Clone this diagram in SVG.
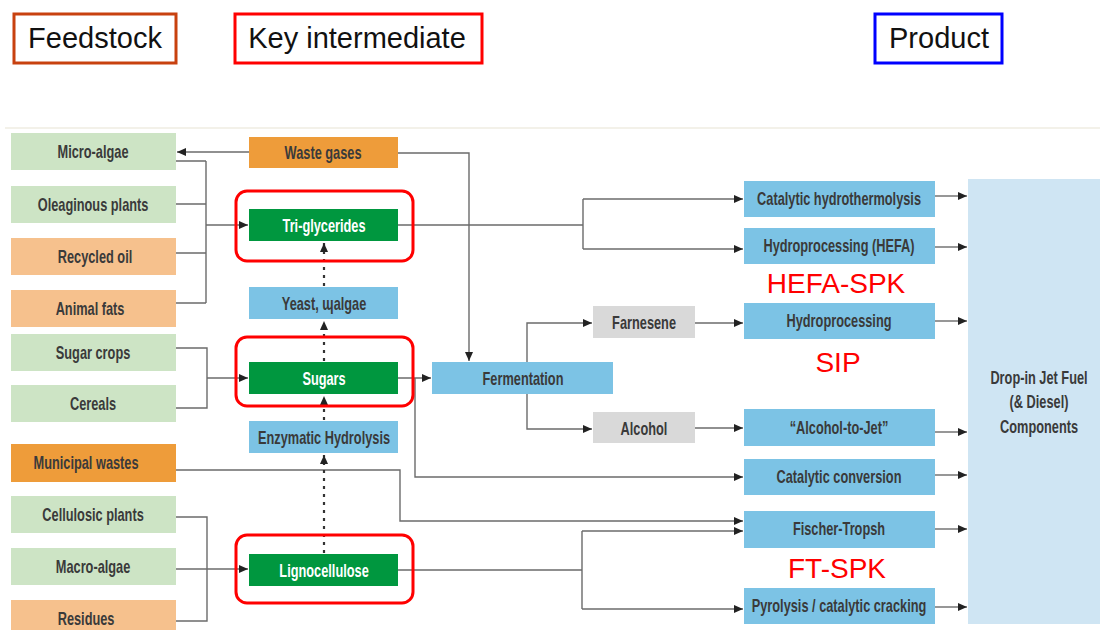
<svg xmlns="http://www.w3.org/2000/svg" width="1100" height="630" viewBox="0 0 1100 630">
<style>
.hdr{font-family:"Liberation Sans",Arial,sans-serif;font-size:29px;fill:#111;text-anchor:middle}
.t{font-family:"Liberation Sans",Arial,sans-serif;font-weight:bold;font-size:18px;fill:#3a3a3a;text-anchor:middle;transform-box:fill-box;transform-origin:center;transform:scaleX(0.71)}
.w{fill:#ffffff}
.red{font-family:"Liberation Sans",Arial,sans-serif;font-size:28px;fill:#ff0000;text-anchor:middle}
.gl{fill:#cde4c5}.ol{fill:#f6c18d}.od{fill:#ee9c3a}.gd{fill:#00973f}.bl{fill:#7cc3e5}.gr{fill:#d9d9d9}
.rb{fill:none;stroke:#ff0000;stroke-width:3}
.c{fill:none;stroke:#6b6b6b;stroke-width:1.4}
.ca{fill:none;stroke:#6b6b6b;stroke-width:1.4;marker-end:url(#ah)}
.d{fill:none;stroke:#333;stroke-width:2.2;stroke-dasharray:3 5;marker-end:url(#ah)}
</style>
<defs>
<marker id="ah" markerUnits="userSpaceOnUse" markerWidth="10" markerHeight="8" refX="9" refY="4" orient="auto">
<path d="M0,0 L9,4 L0,8 z" fill="#222"/>
</marker>
</defs>
<rect width="1100" height="630" fill="#ffffff"/>
<line x1="5" y1="128" x2="1100" y2="128" stroke="#efece2" stroke-width="1.5"/>

<g id="legend-feedstock"><rect x="14" y="14" width="162" height="49" fill="#fff" stroke="#c8410f" stroke-width="3"/><text class="hdr" x="95" y="48">Feedstock</text></g>
<g id="legend-intermediate"><rect x="235" y="14" width="247" height="49" fill="#fff" stroke="#ff0000" stroke-width="3"/><text class="hdr" x="357" y="48">Key intermediate</text></g>
<g id="legend-product"><rect x="875" y="14" width="127" height="49" fill="#fff" stroke="#0000ff" stroke-width="3"/><text class="hdr" x="939" y="48">Product</text></g>

<g id="connectors">
<path class="ca" d="M249,152 H177"/>
<path class="ca" d="M398,153 H469 V361"/>
<path class="c" d="M176,161 H206 M176,204 H206 M176,253 H206 M176,303 H206 M206,161 V303"/>
<path class="ca" d="M206,225 H248"/>
<path class="c" d="M176,348 H207 V408 H176"/>
<path class="ca" d="M207,378 H248"/>
<path class="c" d="M176,517 H207 V621 H176"/>
<path class="ca" d="M176,569 H248"/>
<path class="ca" d="M176,470 H400 V521 H743"/>
<path class="c" d="M398,225 H583 M583,199 V249"/>
<path class="ca" d="M583,199 H743"/>
<path class="ca" d="M583,249 H743"/>
<path class="ca" d="M398,378 H431"/>
<path class="ca" d="M415,378 V477 H743"/>
<path class="ca" d="M527,362 V323 H592"/>
<path class="ca" d="M527,394 V429 H592"/>
<path class="ca" d="M695,323 H743"/>
<path class="ca" d="M695,428 H743"/>
<path class="c" d="M398,570 H582 M582,531 V609"/>
<path class="ca" d="M582,531 H743"/>
<path class="ca" d="M582,609 H743"/>
<path class="ca" d="M935,196 H967"/>
<path class="ca" d="M935,247 H967"/>
<path class="ca" d="M935,321 H967"/>
<path class="ca" d="M935,432 H967"/>
<path class="ca" d="M935,475 H967"/>
<path class="ca" d="M935,529 H967"/>
<path class="ca" d="M935,607 H967"/>
<path class="d" d="M324,553 V455"/>
<path class="d" d="M324,420 V396"/>
<path class="d" d="M324,361 V321"/>
<path class="d" d="M324,286 V243"/>
</g>

<g id="micro-algae"><rect class="gl" x="11" y="133" width="165" height="37"/><text class="t" x="93" y="158">Micro-algae</text></g>
<g id="oleaginous-plants"><rect class="gl" x="11" y="186" width="165" height="37"/><text class="t" x="93" y="211">Oleaginous plants</text></g>
<g id="recycled-oil"><rect class="ol" x="11" y="238" width="165" height="37"/><text class="t" x="95" y="263">Recycled oil</text></g>
<g id="animal-fats"><rect class="ol" x="11" y="290" width="165" height="37"/><text class="t" x="90" y="315">Animal fats</text></g>
<g id="sugar-crops"><rect class="gl" x="11" y="334" width="165" height="37"/><text class="t" x="93" y="359">Sugar crops</text></g>
<g id="cereals"><rect class="gl" x="11" y="385" width="165" height="37"/><text class="t" x="93" y="410">Cereals</text></g>
<g id="municipal-wastes"><rect class="od" x="11" y="444" width="165" height="38"/><text class="t" x="86" y="469">Municipal wastes</text></g>
<g id="cellulosic-plants"><rect class="gl" x="11" y="496" width="165" height="37"/><text class="t" x="93" y="521">Cellulosic plants</text></g>
<g id="macro-algae"><rect class="gl" x="11" y="548" width="165" height="37"/><text class="t" x="93" y="573">Macro-algae</text></g>
<g id="residues"><rect class="ol" x="11" y="600" width="165" height="37"/><text class="t" x="86" y="625">Residues</text></g>

<g id="waste-gases"><rect class="od" x="249" y="137" width="149" height="31"/><text class="t" x="323" y="159">Waste gases</text></g>
<g id="tri-glycerides"><rect class="rb" x="236" y="191" width="177" height="70" rx="11"/><rect class="gd" x="249" y="209" width="149" height="32"/><text class="t w" x="324" y="232">Tri-glycerides</text></g>
<g id="yeast-algae"><rect class="bl" x="249" y="287" width="149" height="32"/><text class="t" x="324" y="310">Yeast, ɰalgae</text></g>
<g id="sugars"><rect class="rb" x="236" y="337" width="177" height="69" rx="11"/><rect class="gd" x="249" y="362" width="149" height="32"/><text class="t w" x="324" y="385">Sugars</text></g>
<g id="enzymatic-hydrolysis"><rect class="bl" x="249" y="421" width="149" height="32"/><text class="t" x="324" y="444">Enzymatic Hydrolysis</text></g>
<g id="lignocellulose"><rect class="rb" x="236" y="535" width="177" height="68" rx="11"/><rect class="gd" x="249" y="554" width="149" height="32"/><text class="t w" x="324" y="577">Lignocellulose</text></g>

<g id="fermentation"><rect class="bl" x="432" y="362" width="181" height="32"/><text class="t" x="523" y="385">Fermentation</text></g>
<g id="farnesene"><rect class="gr" x="593" y="306" width="102" height="32"/><text class="t" x="644" y="329">Farnesene</text></g>
<g id="alcohol"><rect class="gr" x="593" y="412" width="102" height="31"/><text class="t" x="644" y="435">Alcohol</text></g>

<g id="catalytic-hydrothermolysis"><rect class="bl" x="744" y="181" width="191" height="36"/><text class="t" x="839" y="205">Catalytic hydrothermolysis</text></g>
<g id="hydroprocessing-hefa"><rect class="bl" x="744" y="228" width="191" height="36"/><text class="t" x="839" y="252">Hydroprocessing (HEFA)</text></g>
<g id="hydroprocessing"><rect class="bl" x="744" y="303" width="191" height="36"/><text class="t" x="839" y="327">Hydroprocessing</text></g>
<g id="alcohol-to-jet"><rect class="bl" x="744" y="409" width="191" height="37"/><text class="t" x="839" y="434">“Alcohol-to-Jet”</text></g>
<g id="catalytic-conversion"><rect class="bl" x="744" y="459" width="191" height="36"/><text class="t" x="839" y="483">Catalytic conversion</text></g>
<g id="fischer-tropsh"><rect class="bl" x="744" y="511" width="191" height="37"/><text class="t" x="839" y="535">Fischer-Tropsh</text></g>
<g id="pyrolysis"><rect class="bl" x="744" y="588" width="191" height="36"/><text class="t" x="839" y="612">Pyrolysis / catalytic cracking</text></g>

<g id="drop-in"><rect x="968" y="179" width="132" height="445" fill="#cfe5f3"/>
<text class="t" x="1039" y="384">Drop-in Jet Fuel</text>
<text class="t" x="1039" y="408">(&amp; Diesel)</text>
<text class="t" x="1039" y="433">Components</text></g>

<g id="labels">
<text class="red" x="836" y="293">HEFA-SPK</text>
<text class="red" x="838" y="372">SIP</text>
<text class="red" x="837" y="578">FT-SPK</text>
</g>
</svg>
